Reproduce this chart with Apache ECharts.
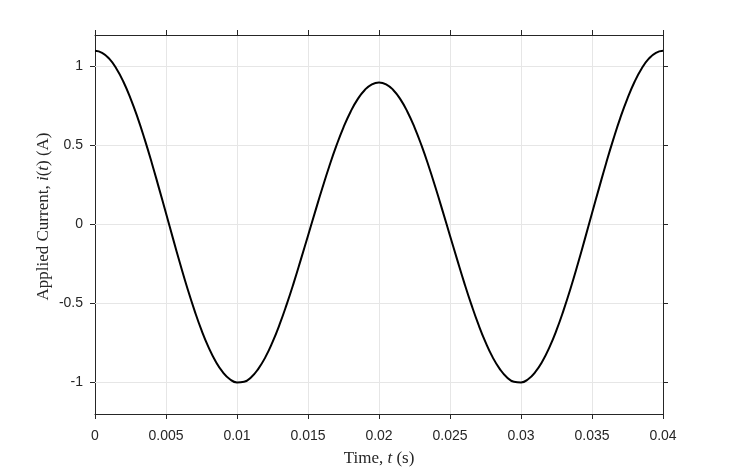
<!DOCTYPE html>
<html>
<head>
<meta charset="utf-8">
<script src="https://cdn.jsdelivr.net/npm/echarts@6/dist/echarts.min.js"></script>
<style>
html,body{margin:0;padding:0;background:#fff;}
#chart{width:732px;height:468px;}
</style>
</head>
<body>
<div id="chart"></div>
<script>
// Time samples (s), every 0.0005 s from 0 to 0.04
var timeValues = [];
for (var k = 0; k <= 80; k++) { timeValues.push(+(k * 0.0005).toFixed(4)); }
// Applied current i(t) (A)
var currentValues = [
 1.100, 1.087, 1.050, 0.988, 0.904, 0.799, 0.677, 0.539, 0.390, 0.232,
 0.071, -0.091, -0.250, -0.402, -0.542, -0.669, -0.778, -0.868, -0.935, -0.980,
 -1.000, -0.996, -0.967, -0.914, -0.840, -0.745, -0.633, -0.506, -0.368, -0.221,
 -0.071, 0.080, 0.228, 0.369, 0.499, 0.615, 0.714, 0.794, 0.852, 0.888,
 0.900, 0.888, 0.852, 0.794, 0.714, 0.615, 0.499, 0.369, 0.228, 0.080,
 -0.071, -0.221, -0.368, -0.506, -0.633, -0.745, -0.840, -0.914, -0.967, -0.996,
 -1.000, -0.980, -0.935, -0.868, -0.778, -0.669, -0.542, -0.402, -0.250, -0.091,
 0.071, 0.232, 0.390, 0.539, 0.677, 0.799, 0.904, 0.988, 1.050, 1.087,
 1.100
];
var yTickValues = [-1, -0.5, 0, 0.5, 1];
var xTickLabels = ['0','0.005','0.01','0.015','0.02','0.025','0.03','0.035','0.04'];

var points = timeValues.map(function (t, i) { return [t, currentValues[i]]; });
var axisColor = '#262626';
var gridColor = '#e6e6e6';
var sans = '"Liberation Sans", Arial, Helvetica, sans-serif';
var serif = '"Liberation Serif", "DejaVu Serif", serif';

var chart = echarts.init(document.getElementById('chart'));
chart.setOption({
  animation: false,
  backgroundColor: '#ffffff',
  grid: { left: 95, right: 69, top: 35, bottom: 54, containLabel: false, outerBoundsMode: 'none' },
  xAxis: [{
    type: 'value', min: 0, max: 0.04, interval: 0.005, position: 'bottom',
    axisLine: { show: true, onZero: false, lineStyle: { color: axisColor, width: 1 } },
    axisTick: { show: true, inside: false, length: 5, lineStyle: { color: axisColor } },
    axisLabel: { color: axisColor, fontFamily: sans, fontSize: 14, margin: 15,
      formatter: function (v) { var i = Math.round(v / 0.005); return xTickLabels[i] || ''; } },
    splitLine: { show: true, lineStyle: { color: gridColor, width: 1 } },
    name: '{n|Time, }{i|t}{n| (s)}', nameLocation: 'middle', nameGap: 36, nameMoveOverlap: false,
    nameTextStyle: { rich: {
      n: { fontFamily: serif, fontSize: 17, color: axisColor },
      i: { fontFamily: serif, fontSize: 17, fontStyle: 'italic', color: axisColor } } }
  }, {
    type: 'value', min: 0, max: 0.04, interval: 0.005, position: 'top',
    axisLine: { show: true, onZero: false, lineStyle: { color: axisColor, width: 1 } },
    axisTick: { show: true, inside: false, length: 5, lineStyle: { color: axisColor } },
    axisLabel: { show: false }, splitLine: { show: false }
  }],
  yAxis: [{
    type: 'value', min: -1.2, max: 1.2, position: 'left',
    axisLine: { show: true, onZero: false, lineStyle: { color: axisColor, width: 1 } },
    axisTick: { show: true, inside: false, length: 5, customValues: yTickValues, lineStyle: { color: axisColor } },
    axisLabel: { color: axisColor, fontFamily: sans, fontSize: 14, margin: 12, customValues: yTickValues,
      formatter: function (v) { return String(v); } },
    splitLine: { show: false },
    name: '{n|Applied Current, }{i|i}{n|(}{i|t}{n|) (A)}', nameLocation: 'middle', nameGap: 43, nameRotate: 90,
    nameMoveOverlap: false,
    nameTextStyle: { padding: [0, 0, 0, 16], rich: {
      n: { fontFamily: serif, fontSize: 17, color: axisColor },
      i: { fontFamily: serif, fontSize: 17, fontStyle: 'italic', color: axisColor } } }
  }, {
    type: 'value', min: -1.2, max: 1.2, position: 'right',
    axisLine: { show: true, onZero: false, lineStyle: { color: axisColor, width: 1 } },
    axisTick: { show: true, inside: false, length: 5, customValues: yTickValues, lineStyle: { color: axisColor } },
    axisLabel: { show: false }, splitLine: { show: false }
  }],
  series: [{
    type: 'line', xAxisIndex: 0, yAxisIndex: 0, data: [],
    silent: true, z: 1,
    markLine: {
      silent: true, symbol: 'none', label: { show: false }, animation: false,
      lineStyle: { color: gridColor, width: 1, type: 'solid' },
      data: yTickValues.map(function (v) { return { yAxis: v }; })
    }
  }, {
    type: 'line', xAxisIndex: 0, yAxisIndex: 0, data: points,
    showSymbol: false, smooth: true, silent: true,
    lineStyle: { color: '#000000', width: 2 },
    z: 5
  }]
});
</script>
</body>
</html>
